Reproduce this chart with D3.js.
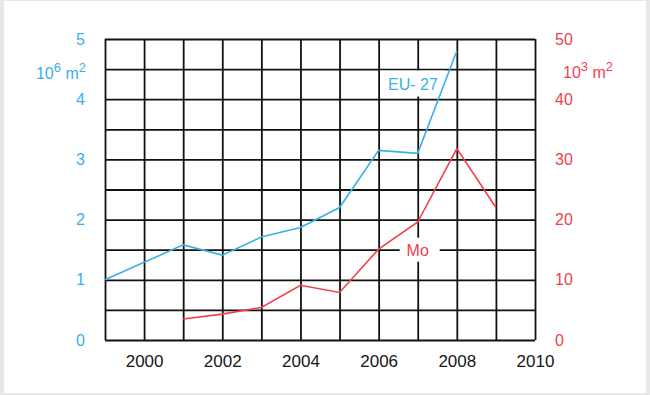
<!DOCTYPE html>
<html>
<head>
<meta charset="utf-8">
<script src="https://cdn.jsdelivr.net/npm/d3@7"></script>
<style>
  body { margin: 0; background: #e8e8e8; }
  svg { display: block; font-family: Arial, "Liberation Sans", sans-serif; }
</style>
</head>
<body>
<div id="chart"></div>
<script>
// EU-27 area (10^6 m2) and Mo area (10^3 m2)
const euYears = [1999, 2000, 2001, 2002, 2003, 2004, 2005, 2006, 2007, 2008]
const euValues = [1.0, 1.29, 1.58, 1.41, 1.71, 1.87, 2.2, 3.15, 3.1, 4.8]
const moYears = [2001, 2002, 2003, 2004, 2005, 2006, 2007, 2008, 2009]
const moValues = [3.5, 4.3, 5.4, 9.1, 7.9, 15.1, 19.6, 31.8, 22.0]

const gridYears = d3.range(1999, 2011)
const leftTicks = [0, 1, 2, 3, 4, 5]
const rightTicks = [0, 10, 20, 30, 40, 50]

const width = 650
const height = 395
const plotLeft = 105, plotRight = 535, plotTop = 39, plotBottom = 340

const blue = "#38b1ec"
const red = "#f2404c"
const font = "Arial, 'Liberation Sans', sans-serif"

const x = d3.scaleLinear().domain([1999, 2010]).range([plotLeft, plotRight])
const yL = d3.scaleLinear().domain([0, 5]).range([plotBottom, plotTop])
const yR = d3.scaleLinear().domain([0, 50]).range([plotBottom, plotTop])

const svg = d3.select("#chart")
  .append("svg")
    .attr("width", width)
    .attr("height", height)

svg.append("rect")
    .attr("x", 4).attr("y", 1)
    .attr("width", 642).attr("height", 392)
    .attr("fill", "#fff")

// grid: vertical lines + year labels
const xAxis = d3.axisBottom(x)
  .tickValues(gridYears)
  .tickSize(-(plotBottom - plotTop))
  .tickPadding(15)
  .tickFormat(d => d % 2 === 0 ? d : "")
const gx = svg.append("g")
    .attr("transform", "translate(0," + plotBottom + ")")
    .call(xAxis)
gx.select(".domain").remove()
gx.selectAll("line").attr("stroke", "#111").attr("stroke-width", 1.8)
gx.selectAll("text").attr("font-size", 17).attr("fill", "#161616")
    .attr("font-family", font)

// horizontal lines every 0.5
const gy = svg.append("g")
    .attr("transform", "translate(" + plotLeft + ",0)")
    .call(d3.axisLeft(yL).tickValues(d3.range(0, 5.01, 0.5)).tickSize(-(plotRight - plotLeft)).tickFormat(""))
gy.select(".domain").remove()
gy.selectAll("line").attr("stroke", "#111").attr("stroke-width", 1.8)

// left axis labels
const gl = svg.append("g")
    .attr("transform", "translate(" + plotLeft + ",0)")
    .call(d3.axisLeft(yL).tickValues(leftTicks).tickFormat(d3.format("d")).tickSize(0).tickPadding(20))
gl.select(".domain").remove()
gl.selectAll("text").attr("font-size", 16).attr("fill", blue)
    .attr("font-family", font)

// right axis labels
const gr = svg.append("g")
    .attr("transform", "translate(" + plotRight + ",0)")
    .call(d3.axisRight(yR).tickValues(rightTicks).tickFormat(d3.format("d")).tickSize(0).tickPadding(20))
gr.select(".domain").remove()
gr.selectAll("text").attr("font-size", 16).attr("fill", red)
    .attr("font-family", font)

// units
function unitLabel(x0, y0, anchor, power, color) {
  const t = svg.append("text")
      .attr("x", x0).attr("y", y0)
      .attr("text-anchor", anchor)
      .attr("font-size", 16)
      .attr("fill", color)
  t.append("tspan").text("10")
  t.append("tspan").text(power).attr("font-size", 13).attr("dy", -7)
  t.append("tspan").text(" m").attr("dy", 7)
  t.append("tspan").text("2").attr("font-size", 13).attr("dy", -7)
}
unitLabel(86, 79, "end", "6", blue)
unitLabel(563, 78, "start", "3", red)

// label boxes
svg.append("rect")
    .attr("x", 380).attr("y", 70.5)
    .attr("width", 66).attr("height", 26)
    .attr("fill", "#fff")
svg.append("rect")
    .attr("x", x(2007) - 18).attr("y", yR(15) - 12)
    .attr("width", 40).attr("height", 24)
    .attr("fill", "#fff")

// series
const eu = euYears.map((yr, i) => [yr, euValues[i]])
const mo = moYears.map((yr, i) => [yr, moValues[i]])

svg.append("path")
    .datum(eu)
    .attr("fill", "none")
    .attr("stroke", blue)
    .attr("stroke-width", 1.6)
    .attr("d", d3.line().x(d => x(d[0])).y(d => yL(d[1])))

svg.append("path")
    .datum(mo)
    .attr("fill", "none")
    .attr("stroke", red)
    .attr("stroke-width", 1.6)
    .attr("d", d3.line().x(d => x(d[0])).y(d => yR(d[1])))

svg.append("text")
    .text("EU- 27")
    .attr("x", 388).attr("y", 90)
    .attr("font-size", 16)
    .attr("fill", blue)

svg.append("text")
    .text("Mo")
    .attr("x", x(2007))
    .attr("y", yR(15) + 6)
    .attr("text-anchor", "middle")
    .attr("font-size", 16)
    .attr("fill", red)
</script>
</body>
</html>
